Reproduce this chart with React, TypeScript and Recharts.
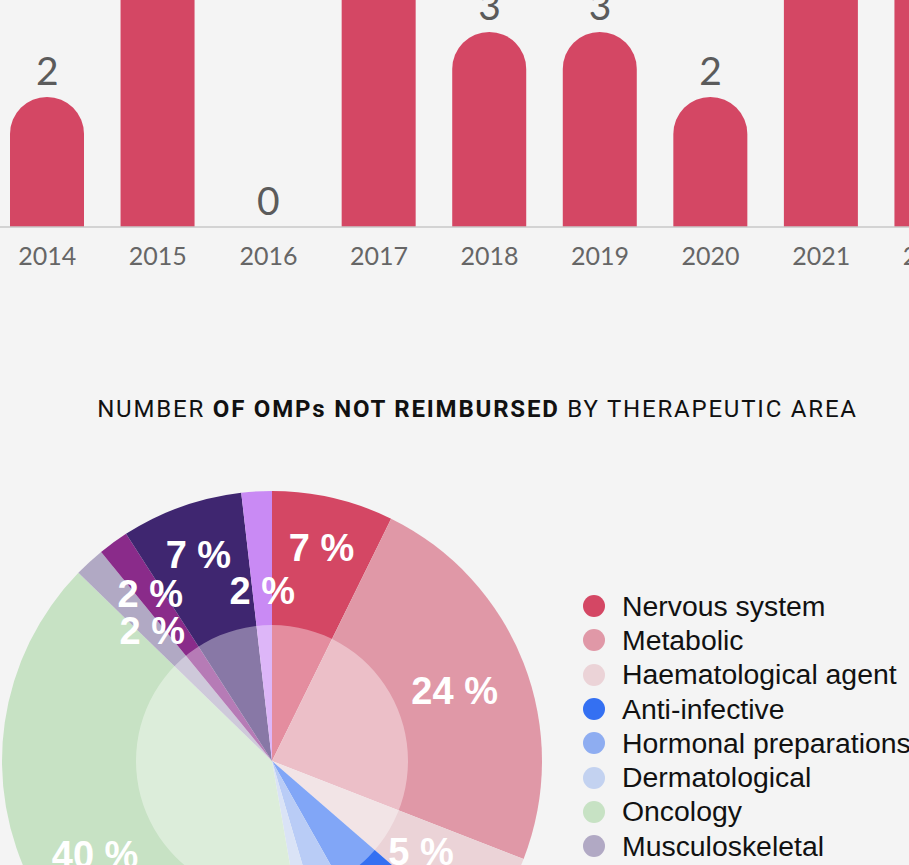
import React from "react";
import { ComposedChart, Bar, Line, XAxis, YAxis, LabelList, PieChart, Pie, Cell, Legend } from "recharts";

// Bar chart data: number of OMPs not reimbursed per year
const years = ["2014", "2015", "2016", "2017", "2018", "2019", "2020", "2021", "2022"];
const notReimbursed = [2, 6, 0, 5, 3, 3, 2, 7, 6];

// Pie chart data: OMPs not reimbursed by therapeutic area
const areas = [
  "Nervous system",
  "Metabolic",
  "Haematological agent",
  "Anti-infective",
  "Hormonal preparations",
  "Dermatological",
  "Oncology",
  "Musculoskeletal",
  "Immunological",
  "Respiratory",
  "Cardiovascular",
];
const areaCounts = [4, 13, 3, 3, 2, 1, 22, 1, 1, 4, 1];
const areaColors = [
  "#d44764",
  "#e098a7",
  "#ebd3d7",
  "#3470f2",
  "#8eadf1",
  "#c3d2f0",
  "#c7e2c4",
  "#b1a9c4",
  "#8a2b8a",
  "#3f2670",
  "#c98af4",
];
const labelRadii = [219, 196, 174, 235, 200, 165, 200, 177, 207, 219, 171];

const barData = years.map((y, i) => ({ year: y, count: notReimbursed[i] }));
const pieData = areas.map((a, i) => ({ name: a, value: areaCounts[i] }));

const RAD = Math.PI / 180;

const renderBarLabel = (props: any) => {
  const { x, y, value } = props;
  return (
    <text
      x={Number(x)}
      y={Number(y) - 12}
      textAnchor="middle"
      fill="#5b5b5b"
      style={{ fontSize: 39, fontFamily: "Lato, sans-serif" }}
    >
      {String(value)}
    </text>
  );
};

const renderPieLabel = (props: any) => {
  const { cx, cy, midAngle, percent, index } = props;
  const r = labelRadii[index];
  const x = cx + r * Math.cos(-midAngle * RAD);
  const y = cy + r * Math.sin(-midAngle * RAD);
  return (
    <text
      x={x}
      y={y}
      dy="0.36em"
      textAnchor="middle"
      fill="#ffffff"
      style={{ fontFamily: "'Liberation Sans', Arial, sans-serif", fontWeight: 700, fontSize: 38 }}
    >
      {`${Math.round(percent * 100)} %`}
    </text>
  );
};

const renderLegend = () => (
  <div style={{ fontFamily: "'Liberation Sans', Arial, sans-serif" }}>
    {areas.map((a, i) => (
      <div key={a} style={{ display: "flex", alignItems: "center", height: 34.3 }}>
        <span
          style={{
            display: "inline-block",
            width: 22,
            height: 22,
            borderRadius: 11,
            background: areaColors[i],
            marginRight: 17,
            flex: "0 0 auto",
          }}
        />
        <span style={{ fontSize: 28.4, color: "#111", whiteSpace: "nowrap" }}>{a}</span>
      </div>
    ))}
  </div>
);

export default function App() {
  return (
    <div
      style={{
        position: "fixed",
        left: 0,
        top: 0,
        width: 909,
        height: 865,
        overflow: "hidden",
        background: "#f4f4f4",
        fontFamily: "Lato, sans-serif",
      }}
    >
      <div style={{ position: "absolute", left: -8, top: -293 }}>
        <ComposedChart width={995} height={580} data={barData} margin={{ top: 0, right: 0, bottom: 0, left: 0 }}>
          <XAxis
            dataKey="year"
            height={60}
            interval={0}
            axisLine={{ stroke: "#c8c8c8", strokeWidth: 1.5 }}
            tickLine={false}
            tickMargin={14}
            tick={{ fill: "#666666", fontSize: 25, fontFamily: "Lato, sans-serif" }}
          />
          <YAxis hide domain={[0, 8]} allowDataOverflow />
          <Bar dataKey="count" fill="#d44764" barSize={74} radius={[37, 37, 0, 0]} isAnimationActive={false} />
          <Line
            dataKey="count"
            stroke="none"
            dot={false}
            activeDot={false}
            legendType="none"
            isAnimationActive={false}
          >
            <LabelList dataKey="count" content={renderBarLabel} />
          </Line>
        </ComposedChart>
      </div>

      <div
        style={{
          position: "absolute",
          left: 0,
          top: 397,
          width: 955,
          textAlign: "center",
          fontFamily: "Roboto, sans-serif",
          fontSize: 24,
          lineHeight: "24px",
          letterSpacing: 1.8,
          color: "#111",
          whiteSpace: "nowrap",
        }}
      >
        NUMBER <b>OF OMPs NOT REIMBURSED</b> BY THERAPEUTIC AREA
      </div>

      <div style={{ position: "absolute", left: 0, top: 380 }}>
        <PieChart width={909} height={700} margin={{ top: 0, right: 0, bottom: 0, left: 0 }}>
          <Pie
            data={pieData}
            dataKey="value"
            nameKey="name"
            cx={272}
            cy={381}
            innerRadius={0}
            outerRadius={270}
            startAngle={90}
            endAngle={-270}
            stroke="none"
            label={renderPieLabel}
            labelLine={false}
            isAnimationActive={false}
          >
            {pieData.map((d, i) => (
              <Cell key={d.name} fill={areaColors[i]} />
            ))}
          </Pie>
          <Pie
            data={[{ name: "overlay", value: 1 }]}
            dataKey="value"
            cx={272}
            cy={381}
            innerRadius={0}
            outerRadius={136}
            startAngle={90}
            endAngle={-270}
            fill="#ffffff"
            fillOpacity={0.38}
            stroke="none"
            legendType="none"
            isAnimationActive={false}
          />
          <Legend
            content={renderLegend}
            wrapperStyle={{ position: "absolute", left: 583, top: 209, width: 330 }}
          />
        </PieChart>
      </div>
    </div>
  );
}
